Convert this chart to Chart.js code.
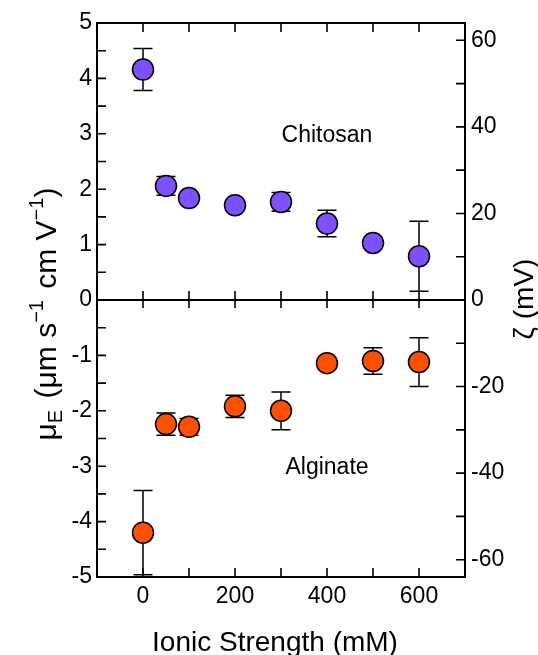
<!DOCTYPE html>
<html>
<head>
<meta charset="utf-8">
<script src="https://cdn.jsdelivr.net/npm/chart.js@4.4.1/dist/chart.umd.min.js"></script>
<style>
  html, body { margin: 0; padding: 0; background: #fff; }
  canvas { display: block; }
</style>
</head>
<body>
<canvas id="mobilityChart" width="538" height="655"></canvas>
<script>
// ionic strength (mM) and electrophoretic mobility (um s-1 cm V-1)
const ionicStrength = [0, 50, 100, 200, 300, 400, 500, 600];
const chitosanMobility = [4.16, 2.06, 1.84, 1.71, 1.77, 1.38, 1.03, 0.79];
const chitosanError = [0.38, 0.17, 0.08, 0.08, 0.17, 0.24, 0.08, 0.63];
const alginateMobility = [-4.20, -2.24, -2.29, -1.92, -2.00, -1.14, -1.10, -1.12];
const alginateError = [0.76, 0.20, 0.15, 0.20, 0.34, 0.08, 0.24, 0.44];

const xTickLabels = [0, 200, 400, 600];
const mobilityTickLabels = [-5, -4, -3, -2, -1, 0, 1, 2, 3, 4, 5];
const zetaTickLabels = [-60, -40, -20, 0, 20, 40, 60];
const zetaPerMobility = 12.8; // mV per (um s-1 cm V-1)

const fontFamily = "'Liberation Sans', Arial, sans-serif";

const ctx = document.getElementById('mobilityChart');

// error bars go under the markers
const errorBars = {
  id: 'errorBars',
  beforeDatasetsDraw(chart) {
    const c = chart.ctx;
    const xs = chart.scales.x, ys = chart.scales.y;
    c.save();
    c.strokeStyle = '#000';
    c.lineWidth = 1.5;
    chart.data.datasets.forEach(ds => {
      ds.data.forEach((p, i) => {
        const px = xs.getPixelForValue(p.x);
        const top = ys.getPixelForValue(p.y + ds.errors[i]);
        const bot = ys.getPixelForValue(p.y - ds.errors[i]);
        c.beginPath();
        c.moveTo(px, top); c.lineTo(px, bot);
        c.moveTo(px - 9.5, top); c.lineTo(px + 9.5, top);
        c.moveTo(px - 9.5, bot); c.lineTo(px + 9.5, bot);
        c.stroke();
      });
    });
    c.restore();
  }
};

// text made of pieces (sub/superscripts), centred on cx,cy
function drawRich(c, parts, cx, cy, rotate) {
  c.save();
  c.translate(cx, cy);
  if (rotate) c.rotate(-Math.PI / 2);
  c.fillStyle = '#000';
  c.textBaseline = 'alphabetic';
  c.textAlign = 'left';
  let total = 0;
  parts.forEach(p => {
    c.font = p.size + 'px ' + fontFamily;
    p.w = c.measureText(p.t).width + (p.gap || 0);
    total += p.w;
  });
  let x = -total / 2;
  parts.forEach(p => {
    c.font = p.size + 'px ' + fontFamily;
    c.fillText(p.t, x + (p.gap || 0), p.dy || 0);
    x += p.w;
  });
  c.restore();
}

// box, inside ticks, zero line and titles
const frame = {
  id: 'frame',
  afterDraw(chart) {
    const c = chart.ctx;
    const a = chart.chartArea;
    const xs = chart.scales.x, ys = chart.scales.y, zs = chart.scales.zeta;
    const mid = ys.getPixelForValue(0);
    c.save();
    c.strokeStyle = '#000';
    c.lineWidth = 1.6;
    c.beginPath();
    xs.ticks.forEach(t => {
      if (t.value <= xs.min || t.value >= xs.max) return;
      const px = xs.getPixelForValue(t.value);
      c.moveTo(px, a.top); c.lineTo(px, a.top + 9);
      c.moveTo(px, mid - 9); c.lineTo(px, mid + 8);
      c.moveTo(px, a.bottom); c.lineTo(px, a.bottom - 9);
    });
    ys.ticks.forEach(t => {
      if (t.value <= ys.min || t.value >= ys.max || t.value === 0) return;
      const py = ys.getPixelForValue(t.value);
      c.moveTo(a.left, py); c.lineTo(a.left + 9, py);
    });
    zs.ticks.forEach(t => {
      if (t.value <= zs.min || t.value >= zs.max || t.value === 0) return;
      const py = zs.getPixelForValue(t.value);
      c.moveTo(a.right, py); c.lineTo(a.right - 9, py);
    });
    c.stroke();
    c.lineWidth = 2;
    c.strokeRect(a.left, a.top, a.width, a.height);
    c.beginPath();
    c.moveTo(a.left, mid); c.lineTo(a.right, mid);
    c.stroke();

    // panel labels
    c.fillStyle = '#000';
    c.font = '23px ' + fontFamily;
    c.textAlign = 'center';
    c.textBaseline = 'alphabetic';
    c.fillText('Chitosan', xs.getPixelForValue(400), ys.getPixelForValue(3) + 8);
    c.fillText('Alginate', xs.getPixelForValue(400), ys.getPixelForValue(-3) + 8);

    c.font = '28px ' + fontFamily;
    c.fillText('Ionic Strength (mM)', 275, 651);
    c.restore();

    drawRich(c, [
      {t: '\u03bc', size: 30},
      {t: 'E', size: 20, dy: 6},
      {t: ' (\u03bcm s', size: 30, gap: 3},
      {t: '\u22121', size: 20, dy: -13},
      {t: ' cm V', size: 30, gap: 3},
      {t: '\u22121', size: 20, dy: -13},
      {t: ')', size: 30}
    ], 56, 314, true);
    drawRich(c, [{t: '\u03b6 (mV)', size: 28}], 533, 299, true);
  }
};

const tickFont = {family: fontFamily, size: 23};

new Chart(ctx, {
  type: 'scatter',
  data: {
    datasets: [{
      label: 'Chitosan',
      data: ionicStrength.map((v, i) => ({x: v, y: chitosanMobility[i]})),
      errors: chitosanError,
      backgroundColor: '#7f50ff',
      borderColor: '#000',
      borderWidth: 1.5,
      pointRadius: 10.5,
      yAxisID: 'y'
    }, {
      label: 'Alginate',
      data: ionicStrength.map((v, i) => ({x: v, y: alginateMobility[i]})),
      errors: alginateError,
      backgroundColor: '#ff5000',
      borderColor: '#000',
      borderWidth: 1.5,
      pointRadius: 10.5,
      yAxisID: 'y'
    }]
  },
  options: {
    responsive: false,
    animation: false,
    layout: { padding: { top: 23, left: 0, right: 0, bottom: 0 } },
    plugins: {
      legend: { display: false },
      tooltip: { enabled: false }
    },
    scales: {
      x: {
        type: 'linear',
        position: 'bottom',
        min: -100,
        max: 700,
        grid: { display: false, drawTicks: false },
        border: { display: false },
        ticks: {
          stepSize: 100,
          autoSkip: false,
          maxRotation: 0,
          padding: 6,
          color: '#000',
          font: tickFont,
          callback: v => xTickLabels.includes(v) ? String(v) : ''
        },
        afterFit: s => { s.height = 78; }
      },
      y: {
        type: 'linear',
        position: 'left',
        min: -5,
        max: 5,
        grid: { display: false, drawTicks: false },
        border: { display: false },
        ticks: {
          stepSize: 0.5,
          autoSkip: false,
          padding: 5,
          color: '#000',
          font: tickFont,
          callback: v => mobilityTickLabels.includes(v) ? String(v) : ''
        },
        afterFit: s => { s.width = 97; }
      },
      zeta: {
        type: 'linear',
        position: 'right',
        display: true,
        min: -5 * zetaPerMobility,
        max: 5 * zetaPerMobility,
        grid: { display: false, drawTicks: false },
        border: { display: false },
        ticks: {
          stepSize: 10,
          includeBounds: false,
          autoSkip: false,
          padding: 6,
          color: '#000',
          font: tickFont,
          callback: v => zetaTickLabels.includes(v) ? String(v) : ''
        },
        afterFit: s => { s.width = 73; }
      }
    }
  },
  plugins: [errorBars, frame]
});
</script>
</body>
</html>
